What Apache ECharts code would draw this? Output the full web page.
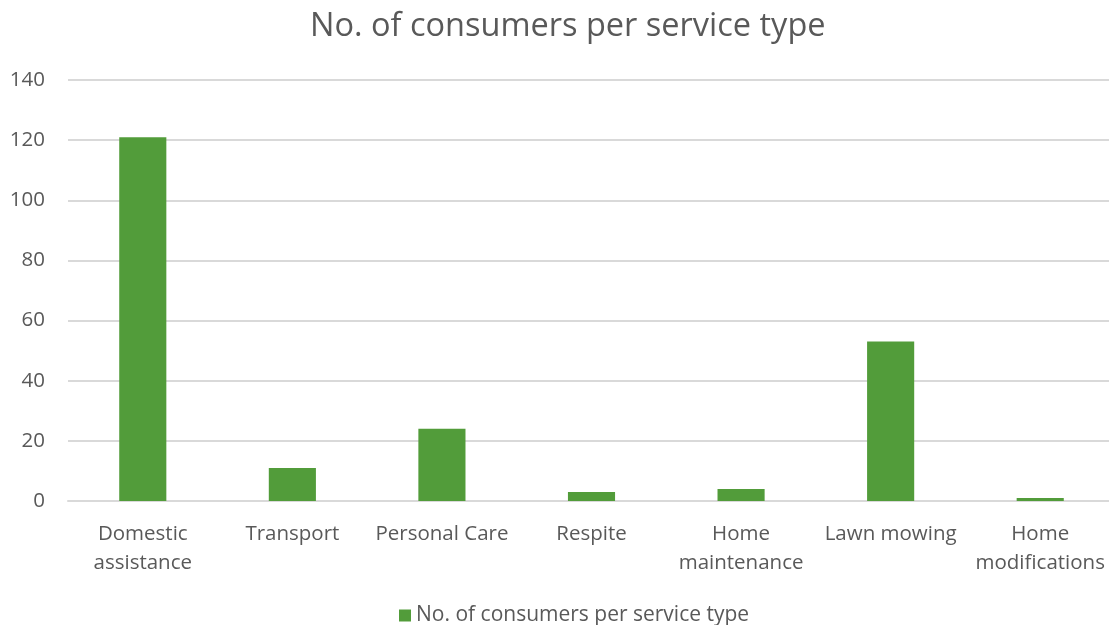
<!DOCTYPE html>
<html>
<head>
<meta charset="utf-8">
<script src="https://cdn.jsdelivr.net/npm/echarts@6/dist/echarts.min.js"></script>
<style>
  html, body { margin: 0; padding: 0; background: #fff; overflow: hidden; }
  #chart { width: 1109px; height: 625px; }
</style>
</head>
<body>
<div id="chart"></div>
<script>
const chartTitle = 'No. of consumers per service type';
const seriesName = 'No. of consumers per service type';
const categories = ['Domestic\nassistance', 'Transport', 'Personal Care', 'Respite', 'Home\nmaintenance', 'Lawn mowing', 'Home\nmodifications'];
const consumers = [121, 11, 24, 3, 4, 53, 1];
const yTicks = { min: 0, max: 140, interval: 20 };

const FONT = '"Open Sans", "Liberation Sans", sans-serif';
const TEXT = '#595959';

const chart = echarts.init(document.getElementById('chart'));
chart.setOption({
  animation: false,
  title: {
    text: chartTitle,
    left: 305,
    top: 5,
    textStyle: { fontFamily: FONT, fontSize: 32.5, fontWeight: 'normal', color: TEXT }
  },
  legend: {
    top: 600,
    left: 394,
    icon: 'rect',
    itemWidth: 12,
    itemHeight: 12,
    itemGap: 4,
    textStyle: { fontFamily: FONT, fontSize: 21, color: TEXT }
  },
  // plot area runs slightly past the right edge of the canvas
  grid: { left: 68, width: 1047, top: 80, bottom: 124, containLabel: false, outerBoundsMode: 'none' },
  xAxis: {
    type: 'category',
    data: categories,
    axisLine: { show: true, lineStyle: { color: '#d9d9d9', width: 2 } },
    axisTick: { show: false },
    axisLabel: {
      fontFamily: FONT, fontSize: 20.5, color: TEXT, margin: 19,
      lineHeight: 29, interval: 0
    }
  },
  yAxis: {
    type: 'value',
    min: yTicks.min,
    max: yTicks.max,
    interval: yTicks.interval,
    axisLine: { show: false },
    axisTick: { show: false },
    axisLabel: { fontFamily: FONT, fontSize: 20.5, color: TEXT, margin: 23 },
    splitLine: { lineStyle: { color: '#d9d9d9', width: 2 } }
  },
  series: [{
    name: seriesName,
    type: 'bar',
    data: consumers,
    barWidth: '31.5%',
    itemStyle: { color: '#529C3A' }
  }]
});
</script>
</body>
</html>
